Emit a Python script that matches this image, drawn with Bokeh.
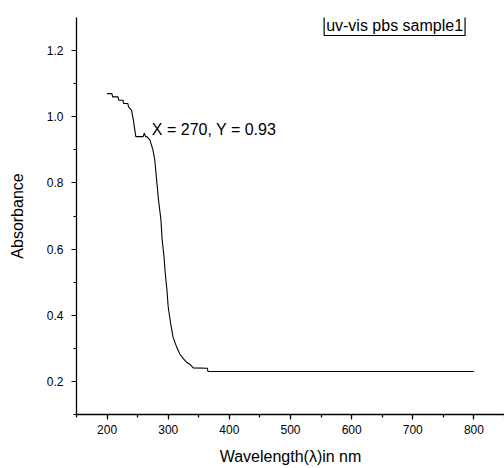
from bokeh.plotting import figure
from bokeh.models import Range1d, SingleIntervalTicker, Label, PrintfTickFormatter, ColumnDataSource
from bokeh.embed import file_html
from bokeh.resources import INLINE

# Data (wavelength in nm, absorbance)
wavelength = [200, 208, 209, 218, 219, 226, 227, 234, 235, 240, 243, 247, 250, 259, 261,
              263, 265, 270, 275, 278, 281, 284, 288, 290, 293, 295, 298, 300, 304, 308,
              314, 319, 325, 330, 336, 341, 364, 365, 800]
absorbance = [1.07, 1.07, 1.06, 1.06, 1.05, 1.05, 1.04, 1.04, 1.03, 1.02, 0.99, 0.94, 0.94,
              0.94, 0.95, 0.94, 0.94, 0.93, 0.90, 0.87, 0.81, 0.75, 0.69, 0.63, 0.58, 0.53,
              0.475, 0.425, 0.375, 0.333, 0.303, 0.283, 0.268, 0.258, 0.251, 0.241, 0.24,
              0.23, 0.23]
series_name = "uv-vis pbs sample1"
peak_x = 270
peak_y = 0.93

FONT = "Liberation Sans"

p = figure(width=504, height=468, output_backend="svg", toolbar_location=None,
           x_range=Range1d(150, 850), y_range=Range1d(0.1, 1.3),
           min_border_left=76, min_border_right=0, min_border_top=17, min_border_bottom=54)

src = ColumnDataSource(data=dict(x=wavelength, y=absorbance))
p.line("x", "y", source=src, line_color="black", line_width=1.1)

p.xgrid.visible = False
p.ygrid.visible = False
p.outline_line_color = None
p.background_fill_color = "white"
p.border_fill_color = "white"

p.xaxis.ticker = SingleIntervalTicker(interval=100, num_minor_ticks=2)
p.yaxis.ticker = SingleIntervalTicker(interval=0.2, num_minor_ticks=2)
p.yaxis.formatter = PrintfTickFormatter(format="%.1f")

p.xaxis.axis_label = "Wavelength(λ)in nm"
p.yaxis.axis_label = "Absorbance"

for ax in (p.xaxis[0], p.yaxis[0]):
    ax.axis_line_color = "black"
    ax.axis_line_width = 1.3
    ax.major_tick_line_color = "black"
    ax.major_tick_line_width = 1.2
    ax.minor_tick_line_color = "black"
    ax.minor_tick_line_width = 1.2
    ax.major_tick_in = 0
    ax.major_tick_out = 5
    ax.minor_tick_in = 0
    ax.minor_tick_out = 3
    ax.major_label_text_font = FONT
    ax.major_label_text_font_size = "12px"
    ax.major_label_text_color = "black"
    ax.axis_label_text_font = FONT
    ax.axis_label_text_font_size = "16px"
    ax.axis_label_text_font_style = "normal"
    ax.axis_label_text_color = "black"

p.xaxis.major_label_standoff = 5
p.xaxis.axis_label_standoff = 11
p.yaxis.major_label_standoff = 8
p.yaxis.axis_label_standoff = 18

ann = Label(x=peak_x, y=peak_y, x_offset=2, y_offset=10,
            text=f"X = {peak_x}, Y = {peak_y}",
            text_font=FONT, text_font_size="16px", text_color="black",
            text_baseline="alphabetic")
p.add_layout(ann)

legend_box = Label(x=555, y=1.3, y_offset=3, text=series_name,
                   text_font=FONT, text_font_size="16px", text_color="black",
                   text_baseline="top", text_align="left",
                   border_line_color="black", border_line_width=1.2,
                   background_fill_color="white", padding=2)
p.add_layout(legend_box)

open("out.html", "w").write(file_html(p, INLINE))
